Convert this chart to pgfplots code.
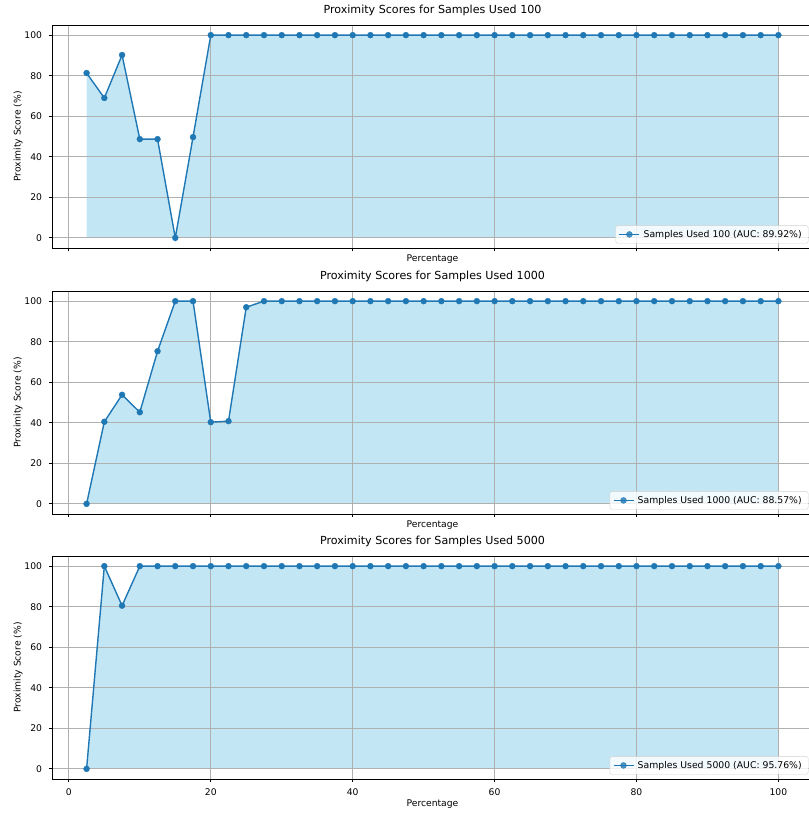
\documentclass[border=0pt]{standalone}
\usepackage{fontspec}
\setmainfont{DejaVu Sans}
\usepackage{pgfplots}
\usepackage{pgfplotstable}
\pgfplotsset{compat=1.18}

\definecolor{linec}{HTML}{1F77B4}
\definecolor{fillc}{HTML}{C3E6F5}
\definecolor{gridc}{HTML}{B0B0B0}

% Proximity scores (%) per percentage of data, one table per sample size
\pgfplotstableread{
x y
2.5 81.3
5 69.0
7.5 90.2
10 48.7
12.5 48.7
15 0
17.5 49.7
20 100
22.5 100
25 100
27.5 100
30 100
32.5 100
35 100
37.5 100
40 100
42.5 100
45 100
47.5 100
50 100
52.5 100
55 100
57.5 100
60 100
62.5 100
65 100
67.5 100
70 100
72.5 100
75 100
77.5 100
80 100
82.5 100
85 100
87.5 100
90 100
92.5 100
95 100
97.5 100
100 100
}\tabA

\pgfplotstableread{
x y
2.5 0
5 40.5
7.5 53.8
10 45.2
12.5 75.3
15 100
17.5 100
20 40.3
22.5 40.8
25 97.0
27.5 100
30 100
32.5 100
35 100
37.5 100
40 100
42.5 100
45 100
47.5 100
50 100
52.5 100
55 100
57.5 100
60 100
62.5 100
65 100
67.5 100
70 100
72.5 100
75 100
77.5 100
80 100
82.5 100
85 100
87.5 100
90 100
92.5 100
95 100
97.5 100
100 100
}\tabB

\pgfplotstableread{
x y
2.5 0
5 100
7.5 80.5
10 100
12.5 100
15 100
17.5 100
20 100
22.5 100
25 100
27.5 100
30 100
32.5 100
35 100
37.5 100
40 100
42.5 100
45 100
47.5 100
50 100
52.5 100
55 100
57.5 100
60 100
62.5 100
65 100
67.5 100
70 100
72.5 100
75 100
77.5 100
80 100
82.5 100
85 100
87.5 100
90 100
92.5 100
95 100
97.5 100
100 100
}\tabC

\pgfplotsset{
  panel/.style={
    set layers,
    scale only axis, width=761pt, height=223pt,
    xmin=-2.375, xmax=104.875, ymin=-5, ymax=105,
    xtick={0,20,...,100}, ytick={0,20,...,100},
    grid=major, major grid style={gridc, line width=0.75pt},
    axis line style={line width=0.75pt, black},
    tick align=outside, xtick pos=bottom, ytick pos=left,
    major tick length=3.2pt,
    every tick/.style={black, line width=0.75pt},
    tick label style={font=\fontsize{9.2}{11}\selectfont},
    /pgf/number format/assume math mode=true,
    yticklabel style={anchor=east, inner sep=0pt, xshift=-6.6pt},
    xticklabel style={anchor=north, inner sep=0pt, yshift=-6.6pt},
    title style={font=\fontsize{11.1}{13}\selectfont, anchor=base,
      at={(axis description cs:0.5,1)}, yshift=5.5pt},
    xlabel={Percentage}, ylabel={Proximity Score (\%)},
    label style={font=\fontsize{9.2}{11}\selectfont},
    ylabel style={at={(axis description cs:-0.0447,0.5)}, anchor=center},
    legend style={at={(axis description cs:1,0)}, anchor=south east,
      xshift=-4.6pt, yshift=4.6pt, draw=black!18, fill=white,
      fill opacity=0.8, text opacity=1, draw opacity=1,
      rounded corners=2pt, font=\fontsize{9.3}{11}\selectfont,
      inner xsep=3pt, inner ysep=2.5pt,
      cells={anchor=west}, nodes={inner xsep=3.5pt}},
    legend image code/.code={\draw[mark repeat=2,mark phase=2,##1]
      plot coordinates {(0pt,0pt) (10pt,0pt) (20pt,0pt)};},
  },
  area/.style={fill=fillc, draw=none, forget plot, on layer=axis background},
  curve/.style={linec, line width=1.4pt, mark=*, mark size=3pt,
    mark options={fill=linec, draw=linec, line width=0.3pt}},
}

\begin{document}
\begin{tikzpicture}

\begin{axis}[panel, at={(52pt,-25pt)}, anchor=north west,
  title={Proximity Scores for Samples Used 100},
  xticklabels={}, xlabel style={at={(axis description cs:0.5,0)}, anchor=base, yshift=-13.5pt}]
\addplot[area] table[x=x,y=y] {\tabA} \closedcycle;
\addplot[curve] table[x=x,y=y] {\tabA};
\addlegendentry{Samples Used 100 (AUC: 89.92\%)}
\end{axis}

\begin{axis}[panel, at={(52pt,-291pt)}, anchor=north west,
  title={Proximity Scores for Samples Used 1000},
  xticklabels={}, xlabel style={at={(axis description cs:0.5,0)}, anchor=base, yshift=-13.5pt}]
\addplot[area] table[x=x,y=y] {\tabB} \closedcycle;
\addplot[curve] table[x=x,y=y] {\tabB};
\addlegendentry{Samples Used 1000 (AUC: 88.57\%)}
\end{axis}

\begin{axis}[panel, at={(52pt,-556pt)}, anchor=north west,
  title={Proximity Scores for Samples Used 5000},
  xlabel style={at={(axis description cs:0.5,0)}, anchor=base, yshift=-27.5pt}]
\addplot[area] table[x=x,y=y] {\tabC} \closedcycle;
\addplot[curve] table[x=x,y=y] {\tabC};
\addlegendentry{Samples Used 5000 (AUC: 95.76\%)}
\end{axis}

% fixed page frame
\pgfresetboundingbox
\path[use as bounding box] (0pt,0pt) rectangle (809pt,-815pt);
\end{tikzpicture}
\end{document}
